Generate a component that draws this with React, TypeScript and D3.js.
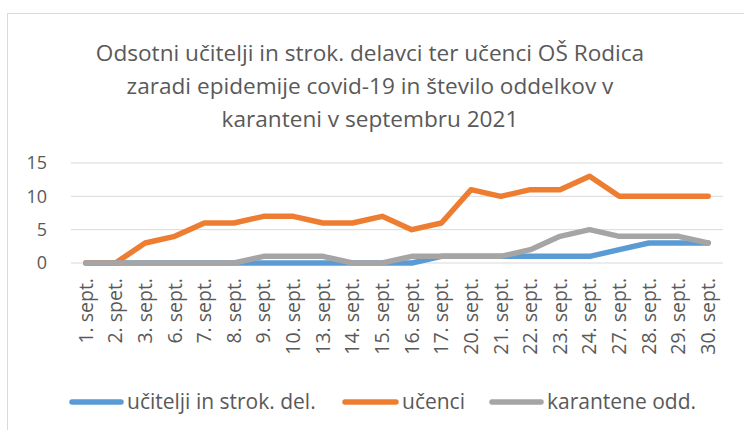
import React from "react";
import * as d3 from "d3";

const categories = ["1. sept.","2. spet.","3. sept.","6. sept.","7. sept.","8. sept.","9. sept.","10. sept.","13. sept.","14. sept.","15. sept.","16. sept.","17. sept.","20. sept.","21. sept.","22. sept.","23. sept.","24. sept.","27. sept.","28. sept.","29. sept.","30. sept."];
const ucitelji = [0,0,0,0,0,0,0,0,0,0,0,0,1,1,1,1,1,1,2,3,3,3];
const ucenci = [0,0,3,4,6,6,7,7,6,6,7,5,6,11,10,11,11,13,10,10,10,10];
const karantene = [0,0,0,0,0,0,1,1,1,0,0,1,1,1,1,2,4,5,4,4,4,3];
const yTicks = [0,5,10,15];
const titleLines = [
  "Odsotni učitelji in strok. delavci ter učenci OŠ Rodica",
  "zaradi epidemije covid-19 in število oddelkov v",
  "karanteni v septembru 2021",
];
const seriesNames = ["učitelji in strok. del.", "učenci", "karantene odd."];
const seriesColors = ["#5B9BD5", "#ED7D31", "#A5A5A5"];

const W = 744, H = 430;
const FONT = "'Open Sans', sans-serif";
const TXT = "#595959";

export default function App() {
  const x = d3.scaleBand<string>().domain(categories).range([71, 723]);
  const y = d3.scaleLinear().domain([0, 15]).range([263, 163]);
  const cx = (c: string) => (x(c) as number) + x.bandwidth() / 2;
  const line = d3.line<number>().x((_, i) => cx(categories[i])).y((v) => y(v));
  const data = [ucitelji, ucenci, karantene];

  const legendItems = [
    { lx: 70, tx: 127 },
    { lx: 343, tx: 402 },
    { lx: 490, tx: 547 },
  ];

  return (
    <svg width={W} height={H} style={{ position: "absolute", left: 0, top: 0, background: "#fff" }} fontFamily={FONT}>
      <rect x={7.5} y={13.5} width={W} height={H} fill="#fff" stroke="#D9D9D9" strokeWidth={1} />
      {titleLines.map((t, i) => (
        <text key={i} x={370} y={61 + i * 33} textAnchor="middle" fontSize={22.6} fill={TXT}>{t}</text>
      ))}
      {yTicks.map((t) => (
        <g key={t}>
          <line x1={71} x2={723} y1={y(t)} y2={y(t)} stroke="#D9D9D9" strokeWidth={1} />
          <text x={47} y={y(t)} dy="0.35em" textAnchor="end" fontSize={18} fill={TXT}>{t}</text>
        </g>
      ))}
      {categories.map((c) => (
        <text key={c} transform={`translate(${cx(c)},278) rotate(-90)`} dy="0.35em" textAnchor="end" fontSize={19.5} fill={TXT}>{c}</text>
      ))}
      {data.map((d, i) => (
        <path key={i} d={line(d) as string} fill="none" stroke={seriesColors[i]} strokeWidth={5.5} strokeLinejoin="round" strokeLinecap="round" />
      ))}
      {seriesNames.map((n, i) => (
        <g key={n}>
          <line x1={legendItems[i].lx + 2} x2={legendItems[i].tx - 6} y1={402} y2={402} stroke={seriesColors[i]} strokeWidth={5.5} strokeLinecap="round" />
          <text x={legendItems[i].tx} y={402} dy="0.35em" fontSize={21} fill={TXT}>{n}</text>
        </g>
      ))}
    </svg>
  );
}
